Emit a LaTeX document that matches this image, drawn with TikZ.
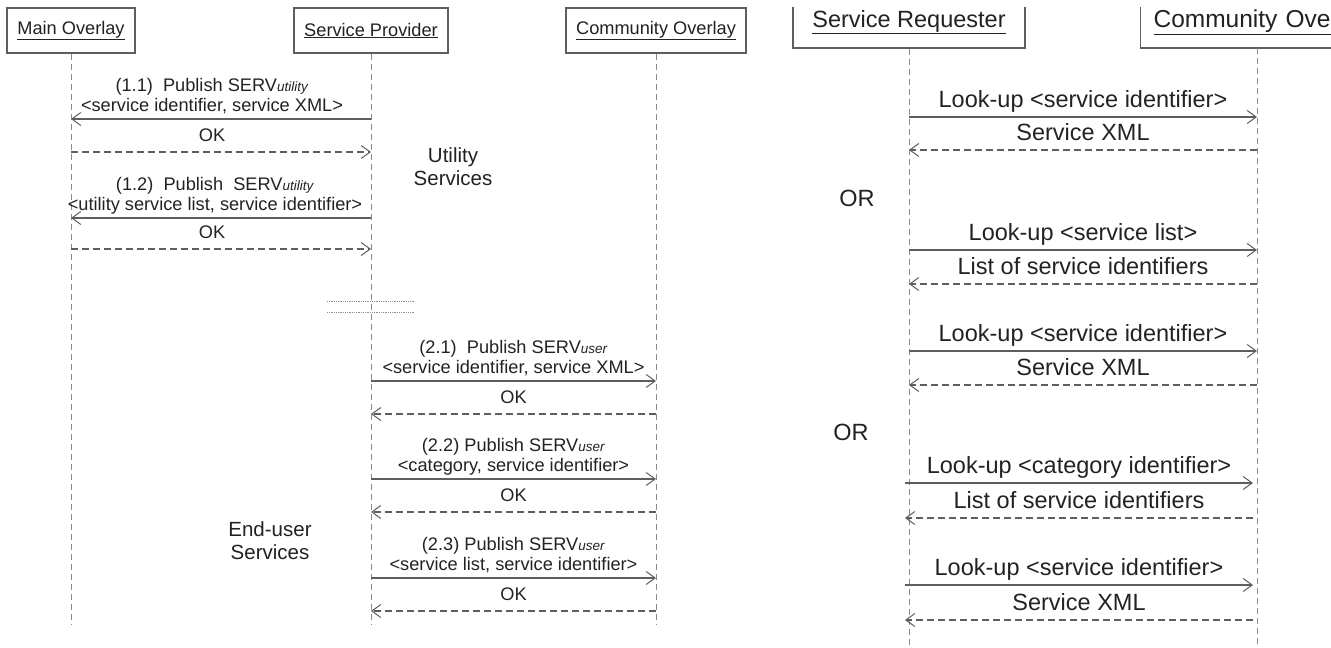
\documentclass[tikz,border=0pt]{standalone}
\usepackage{fontspec}
\setmainfont{Liberation Sans}
\usetikzlibrary{arrows.meta}

\definecolor{ink}{HTML}{222222}
\definecolor{wire}{HTML}{5E5E5E}
\definecolor{faint}{HTML}{8A8A8A}

% font sizes (1pt = one unit of the drawing grid)
\newcommand\leftsz{\fontsize{18.2}{19.8}\selectfont}
\newcommand\subsz{\fontsize{13.5}{14}\selectfont}
\newcommand\notesz{\fontsize{20.5}{23}\selectfont}
\newcommand\rightsz{\fontsize{23.5}{26}\selectfont}
\newcommand\headsz{\fontsize{24.5}{27}\selectfont}

\tikzset{
  actor/.style={draw=wire, line width=1.1pt, fill=white, inner sep=0pt, text=ink},
  life/.style={draw=faint, line width=0.9pt, dash pattern=on 6pt off 4pt},
  msg/.style={draw=wire, line width=1.1pt,
    -{Straight Barb[length=9pt,width=13pt,line width=1pt]}},
  reply/.style={msg, dash pattern=on 7pt off 4pt},
  pub/.style={midway, above=1.0pt, inner sep=0pt, text=ink, font=\leftsz, align=center},
  ack/.style={midway, above=4.0pt, inner sep=0pt, text=ink, font=\leftsz, align=center},
  ask/.style={midway, above=1.5pt, inner sep=0pt, text=ink, font=\rightsz, align=center},
  note/.style={text=ink, align=center, inner sep=0pt},
  brk/.style={draw=faint, line width=0.8pt, densely dotted},
}

\begin{document}
\begin{tikzpicture}[x=1pt, y=-1pt]
\useasboundingbox (0,0) rectangle (1331,648);
\clip (0,0) rectangle (1331,648);

% ---------------- publishing ----------------
\node[actor, font=\leftsz, minimum width=128, minimum height=45] (mo) at (71,30.5) {\underline{Main Overlay}};
\node[actor, font=\leftsz, minimum width=154, minimum height=45] (sp) at (371,30.5) {\underline{Service Provider}};
\node[actor, font=\leftsz, minimum width=180, minimum height=45] (co) at (656,30.5) {\underline{Community Overlay}};

\coordinate (lend) at (0,625);
\draw[life] (mo) -- (mo |- lend);
\draw[life] (sp) -- (sp |- lend);
\draw[life] (co) -- (co |- lend);

\coordinate (m11) at (0,119);
\coordinate (k11) at (0,152);
\coordinate (m12) at (0,218);
\coordinate (k12) at (0,249);
\coordinate (m21) at (0,381);
\coordinate (k21) at (0,414);
\coordinate (m22) at (0,479);
\coordinate (k22) at (0,512);
\coordinate (m23) at (0,578);
\coordinate (k23) at (0,611);

\draw[msg] (sp |- m11) -- node[pub, xshift=-9pt]{(1.1)\ \ Publish SERV\textit{\subsz utility}\\<service identifier, service XML>\strut} (mo |- m11);
\draw[reply] (mo |- k11) -- node[ack, xshift=-9pt]{OK\strut} (sp |- k11);
\draw[msg] (sp |- m12) -- node[pub, xshift=-6pt]{(1.2)\ \ Publish\ \ SERV\textit{\subsz utility}\\<utility service list, service identifier>\strut} (mo |- m12);
\draw[reply] (mo |- k12) -- node[ack, xshift=-9pt]{OK\strut} (sp |- k12);

\node[note, font=\notesz] (util) at (453,167) {Utility\\Services};

% interruption of the time line
\coordinate (b1) at (327,301);
\coordinate (b2) at (415,301);
\coordinate (b3) at (327,312);
\coordinate (b4) at (415,312);
\draw[brk] (b1) -- (b2);
\draw[brk] (b3) -- (b4);

\draw[msg] (sp |- m21) -- node[pub]{(2.1)\ \ Publish SERV\textit{\subsz user}\\<service identifier, service XML>\strut} (co |- m21);
\draw[reply] (co |- k21) -- node[ack]{OK\strut} (sp |- k21);
\draw[msg] (sp |- m22) -- node[pub]{(2.2) Publish SERV\textit{\subsz user}\\<category, service identifier>\strut} (co |- m22);
\draw[reply] (co |- k22) -- node[ack]{OK\strut} (sp |- k22);
\draw[msg] (sp |- m23) -- node[pub]{(2.3) Publish SERV\textit{\subsz user}\\<service list, service identifier>\strut} (co |- m23);
\draw[reply] (co |- k23) -- node[ack]{OK\strut} (sp |- k23);

\node[note, font=\notesz] (endu) at (270,541) {End-user\\Services};

% ---------------- look-up ----------------
\begin{scope}
\clip (780,7) rectangle (1331,80);
\node[actor, font=\rightsz, minimum width=232, minimum height=52] (sr) at (909,22) {\underline{Service Requester}};
\node[actor, font=\headsz, anchor=west, minimum height=52, text width=260pt, inner xsep=13pt, align=left] (cr) at (1140,22) {\underline{Community Overlay}};
\end{scope}

\coordinate (rend) at (0,660);
\coordinate (crtop) at (1257,48);
\draw[life] (sr) -- (sr |- rend);
\draw[life] (crtop) -- (crtop |- rend);

\coordinate (q1) at (0,117);
\coordinate (r1) at (0,150);
\coordinate (q2) at (0,250);
\coordinate (r2) at (0,284);
\coordinate (q3) at (0,351);
\coordinate (r3) at (0,385);
\coordinate (q4) at (0,483);
\coordinate (r4) at (0,518);
\coordinate (q5) at (0,585);
\coordinate (r5) at (0,620);

\draw[msg] (sr |- q1) -- node[ask]{Look-up <service identifier>\strut} (crtop |- q1);
\draw[reply] (crtop |- r1) -- node[ask]{Service XML\strut} (sr |- r1);

\node[note, font=\rightsz] (or1) at (857,198) {OR};

\draw[msg] (sr |- q2) -- node[ask]{Look-up <service list>\strut} (crtop |- q2);
\draw[reply] (crtop |- r2) -- node[ask]{List of service identifiers\strut} (sr |- r2);
\draw[msg] (sr |- q3) -- node[ask]{Look-up <service identifier>\strut} (crtop |- q3);
\draw[reply] (crtop |- r3) -- node[ask]{Service XML\strut} (sr |- r3);

\node[note, font=\rightsz] (or2) at (851,432) {OR};

\draw[msg] ([xshift=-4pt]sr |- q4) -- node[ask]{Look-up <category identifier>\strut} ([xshift=-4pt]crtop |- q4);
\draw[reply] ([xshift=-4pt]crtop |- r4) -- node[ask]{List of service identifiers\strut} ([xshift=-4pt]sr |- r4);
\draw[msg] ([xshift=-4pt]sr |- q5) -- node[ask]{Look-up <service identifier>\strut} ([xshift=-4pt]crtop |- q5);
\draw[reply] ([xshift=-4pt]crtop |- r5) -- node[ask]{Service XML\strut} ([xshift=-4pt]sr |- r5);
\end{tikzpicture}
\end{document}
